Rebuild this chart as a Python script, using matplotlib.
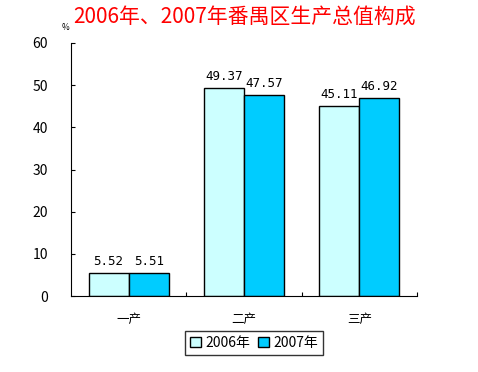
import matplotlib
matplotlib.use("Agg")
import matplotlib.pyplot as plt
import numpy as np

plt.rcParams['font.family'] = ['Noto Sans CJK SC', 'DejaVu Sans']

categories = ['一产', '二产', '三产']
series_names = ['2006年', '2007年']
v2006 = [5.52, 49.37, 45.11]
v2007 = [5.51, 47.57, 46.92]
colors = ['#CCFFFF', '#00CCFF']

W, H = 478, 372
fig = plt.figure(figsize=(W/100, H/100), dpi=100)
ax = fig.add_axes([71/W, 1-296/H, (417-71)/W, (296-43)/H])

x = np.arange(len(categories))
bw = 0.348
b1 = ax.bar(x - bw/2, v2006, bw, color=colors[0], edgecolor='black', linewidth=1, label=series_names[0])
b2 = ax.bar(x + bw/2, v2007, bw, color=colors[1], edgecolor='black', linewidth=1, label=series_names[1])
for bars, vals in ((b1, v2006), (b2, v2007)):
    for r, v in zip(bars, vals):
        ax.text(r.get_x() + r.get_width()/2, v + 1.2, f'{v:.2f}', ha='center', va='bottom',
                fontsize=9, family=['DejaVu Sans Mono', 'DejaVu Sans'])

ax.set_xlim(-0.5, 2.5)
ax.set_ylim(0, 60)
ax.set_yticks(range(0, 61, 10))
ax.set_xticks([0.5, 1.5, 2.5], minor=False)
ax.set_xticklabels([])
ax.set_xticks(x, minor=True)
ax.set_xticklabels(categories, minor=True, fontsize=9)
ax.tick_params(axis='x', which='major', direction='in', length=3)
ax.tick_params(axis='x', which='minor', length=0, pad=12)
ax.tick_params(axis='y', direction='in', length=3, labelsize=10, pad=16.5)
for s in ('top', 'right'):
    ax.spines[s].set_visible(False)

fig.text(62/W, 1-27/H, '%', fontsize=6, ha='left', va='center')
fig.text(73/W, 1-17/H, '2006年、2007年番禺区生产总值构成', color='red', fontsize=15,
         ha='left', va='center')

leg = fig.legend(handles=[b1, b2], loc='center', bbox_to_anchor=(254/W, 1-343/H), ncol=2,
                 frameon=True, fancybox=False, edgecolor='black', fontsize=10,
                 handlelength=0.8, handleheight=0.8, handletextpad=0.3, columnspacing=0.6,
                 borderpad=0.35)
leg.get_frame().set_linewidth(1)

fig.savefig('out.png', dpi=100)
